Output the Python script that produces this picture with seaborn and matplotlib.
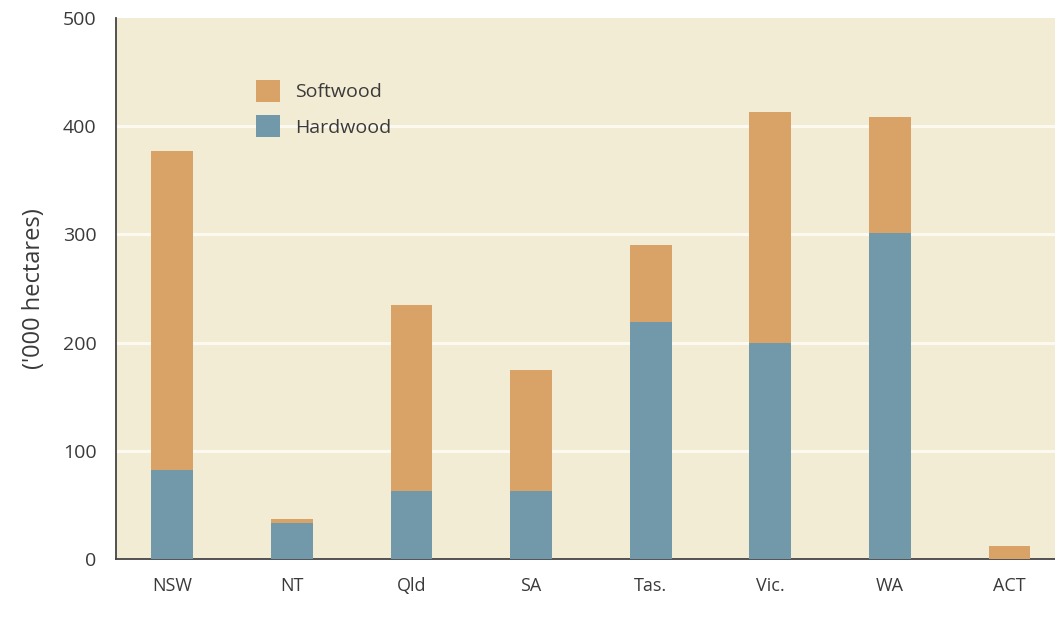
import matplotlib.pyplot as plt
import seaborn as sns
import pandas as pd
from matplotlib.patches import Patch
from matplotlib.ticker import FixedLocator

# data ('000 hectares)
states = ['NSW', 'NT', 'Qld', 'SA', 'Tas.', 'Vic.', 'WA', 'ACT']
hardwood = [82, 33, 63, 63, 219, 200, 301, 0]
softwood = [295, 4, 172, 112, 71, 213, 107, 12]

COLOR_SOFT = '#d9a266'
COLOR_HARD = '#7299aa'
BG = '#f3ecd4'
TEXT = '#3a3a3a'

totals = [h + s for h, s in zip(hardwood, softwood)]
df = pd.DataFrame({'state': states, 'hardwood': hardwood, 'total': totals})

sns.set_style('white')
plt.rcParams['font.family'] = ['Open Sans', 'DejaVu Sans']

fig = plt.figure(figsize=(10.55, 6.17), dpi=100)
ax = fig.add_axes([0.11, 0.094, 0.89, 0.877])
ax.set_facecolor(BG)

# stacked bars: totals (softwood on top) then hardwood part
sns.barplot(data=df, x='state', y='total', color=COLOR_SOFT, width=0.35,
            saturation=1, linewidth=0, ax=ax, zorder=3)
sns.barplot(data=df, x='state', y='hardwood', color=COLOR_HARD, width=0.35,
            saturation=1, linewidth=0, ax=ax, zorder=4)

ax.set_ylim(0, 500)
ax.set_xlim(-0.47, 7.38)
ax.set_yticks([0, 100, 200, 300, 400, 500])
ax.set_yticklabels(['0', '100', '200', '300', '400', '500'])

for y in [100, 200, 300, 400]:
    ax.axhline(y, color='#fcf9f0', lw=2.2, zorder=1)

ax.set_xlabel('')
ax.set_ylabel("('000 hectares)", fontsize=17, color=TEXT, labelpad=12)
ax.tick_params(axis='y', length=0, labelsize=14, labelcolor=TEXT, pad=14)
ax.tick_params(axis='x', which='major', length=0, labelsize=13, labelcolor=TEXT, pad=13)
ax.xaxis.set_minor_locator(FixedLocator([i + 0.5 for i in range(7)]))
ax.tick_params(axis='x', which='minor', direction='in', length=8, width=1.2, color='#444444')

for side in ['top', 'right']:
    ax.spines[side].set_visible(False)
for side in ['left', 'bottom']:
    ax.spines[side].set_color('#444444')
    ax.spines[side].set_linewidth(1.3)

handles = [Patch(facecolor=COLOR_SOFT, edgecolor='none', label='Softwood'),
           Patch(facecolor=COLOR_HARD, edgecolor='none', label='Hardwood')]
leg = ax.legend(handles=handles, loc='upper left', bbox_to_anchor=(0.13, 0.918),
                frameon=False, fontsize=14, handlelength=1.25, handleheight=1.35,
                handletextpad=0.8, labelspacing=0.7)
for t in leg.get_texts():
    t.set_color(TEXT)

fig.savefig('out.png', dpi=100, facecolor='white')
